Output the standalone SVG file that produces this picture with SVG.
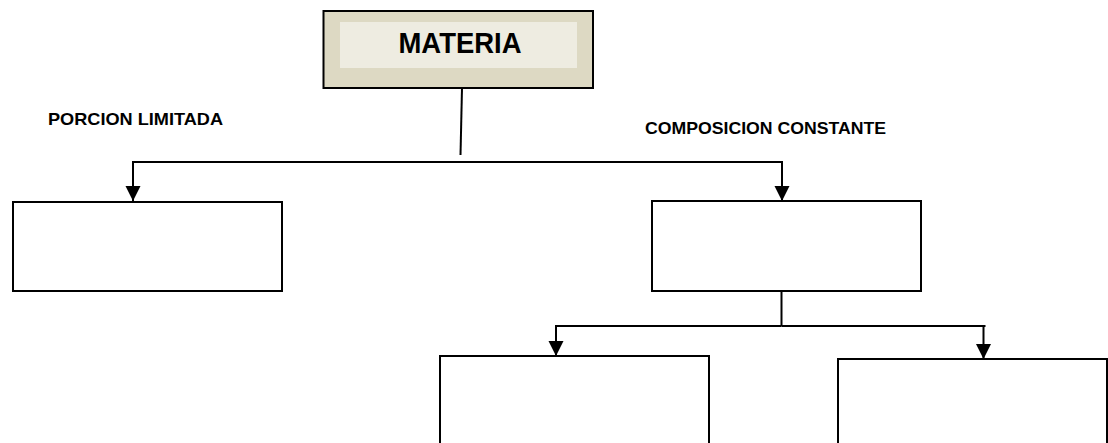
<svg xmlns="http://www.w3.org/2000/svg" width="1108" height="443" viewBox="0 0 1108 443">
  <style>
    .box { fill: #ffffff; stroke: #000000; stroke-width: 2; }
    .line { fill: none; stroke: #000000; stroke-width: 2; }
    .label { font-family: "Liberation Sans", Arial, sans-serif; font-weight: bold; fill: #000000; }
  </style>
  <defs>
    <marker id="down" markerUnits="userSpaceOnUse" markerWidth="16" markerHeight="16" viewBox="0 0 16 16" refX="8" refY="15" orient="0">
      <path d="M0.5,0 L15.5,0 L8,15 Z" fill="#000000"/>
    </marker>
  </defs>
  <rect width="1108" height="443" fill="#ffffff"/>

  <g id="materia">
    <rect x="323.5" y="11" width="269.5" height="77" fill="#ddd9c3" stroke="#000000" stroke-width="2"/>
    <rect x="340" y="22" width="237" height="46" fill="#eeece1"/>
    <text class="label" x="460" y="53" font-size="29" text-anchor="middle" textLength="123" lengthAdjust="spacingAndGlyphs">MATERIA</text>
  </g>

  <g id="label-porcion">
    <text class="label" x="48" y="125" font-size="17" textLength="175" lengthAdjust="spacingAndGlyphs">PORCION LIMITADA</text>
  </g>
  <g id="label-composicion">
    <text class="label" x="645" y="134" font-size="17" textLength="241" lengthAdjust="spacingAndGlyphs">COMPOSICION CONSTANTE</text>
  </g>

  <g id="box-left">
    <rect class="box" x="13" y="202" width="269" height="89"/>
  </g>
  <g id="box-right">
    <rect class="box" x="652" y="201" width="269" height="90"/>
  </g>
  <g id="box-bottom-left">
    <rect class="box" x="440" y="356" width="269" height="100"/>
  </g>
  <g id="box-bottom-right">
    <rect class="box" x="838" y="359" width="269" height="100"/>
  </g>

  <g id="connectors">
    <line class="line" x1="462" y1="88" x2="460.5" y2="155"/>
    <path class="line" d="M458,162 H133 V201" marker-end="url(#down)"/>
    <path class="line" d="M458,162 H782 V201" marker-end="url(#down)"/>
    <line class="line" x1="781.5" y1="291" x2="781.5" y2="326"/>
    <path class="line" d="M781.5,326 H556 V356" marker-end="url(#down)"/>
    <path class="line" d="M781.5,326 H985.5"/>
    <path class="line" d="M983.5,326 V359" marker-end="url(#down)"/>
  </g>
</svg>
